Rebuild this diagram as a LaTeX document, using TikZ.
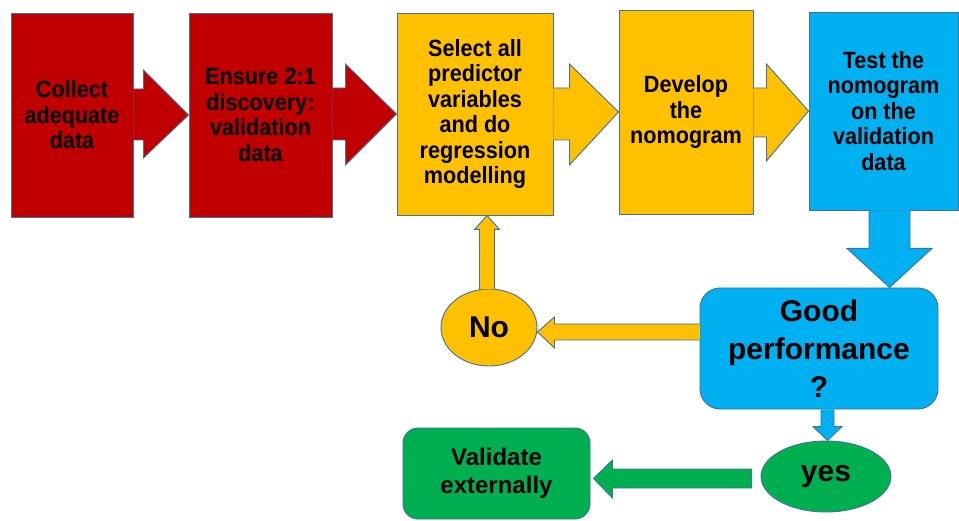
\documentclass[tikz,border=0pt]{standalone}
\usepackage{fontspec}
\setmainfont{Liberation Sans}
\newfontfamily\narrowsans{Liberation Sans}[FakeStretch=0.92]
\usetikzlibrary{calc,shapes.geometric}
\definecolor{cred}{HTML}{C00000}
\definecolor{cyellow}{HTML}{FFC000}
\definecolor{cblue}{HTML}{00B0F0}
\definecolor{cgreen}{HTML}{00B050}
\definecolor{cborder}{HTML}{41719C}
\begin{document}
\begin{tikzpicture}[x=1pt,y=-1pt,
  outl/.style={draw=cborder,line width=0.9pt,line join=miter},
  stepbox/.style={outl,inner sep=0pt,align=center,text=black,
    font=\narrowsans\bfseries\fontsize{23.5}{25.5}\selectfont},
  bigtext/.style={outl,inner sep=0pt,align=center,text=black,
    font=\bfseries\fontsize{30}{38}\selectfont},
  valtext/.style={outl,inner sep=0pt,align=center,text=black,
    font=\bfseries\fontsize{24}{28}\selectfont}]
\useasboundingbox (0,0) rectangle (959,521);
\fill[white] (0,0) rectangle (959,521);

% nodes
\node[stepbox,fill=cred,minimum width=122pt,minimum height=204pt] (b1) at (72,115) {Collect\\adequate\\data};
\node[stepbox,fill=cred,minimum width=143pt,minimum height=204pt] (b2) at (260.5,115) {Ensure 2:1\\discovery:\\validation\\data};
\node[stepbox,fill=cyellow,minimum width=156pt,minimum height=202pt] (b3) at (475,114) {Select all\\predictor\\variables\\and do\\regression\\modelling};
\node[stepbox,fill=cyellow,minimum width=134pt,minimum height=204pt] (b4) at (686,112) {Develop\\the\\nomogram};
\node[stepbox,fill=cblue,minimum width=149pt,minimum height=198pt] (b5) at (883.5,111) {Test the\\nomogram\\on the\\validation\\data};
\node[bigtext,fill=cblue,rounded corners=20pt,minimum width=238pt,minimum height=121pt] (good) at (819,348.5) {Good\\performance\\?};
\node[bigtext,fill=cyellow,ellipse,minimum width=96pt,minimum height=77pt] (no) at (489,327.5) {No};
\node[bigtext,fill=cgreen,ellipse,minimum width=130pt,minimum height=71pt] (yes) at (826,476.5) {yes};
\node[valtext,fill=cgreen,rounded corners=15pt,minimum width=187pt,minimum height=91pt] (val) at (496.5,473.5) {Validate\\externally};

% block arrows along the top row
\draw[outl,fill=cred] ($(b1.east)+(0,-26)$) -- ($(b1.east)+(10,-26)$) -- ($(b1.east)+(10,-45)$) -- (b2.west)
  -- ($(b1.east)+(10,43)$) -- ($(b1.east)+(10,25)$) -- ($(b1.east)+(0,25)$);
\draw[outl,fill=cred] ($(b2.east)+(0,-27)$) -- ($(b2.east)+(13,-27)$) -- ($(b2.east)+(13,-51)$) -- (b3.west)
  -- ($(b2.east)+(13,50)$) -- ($(b2.east)+(13,25)$) -- ($(b2.east)+(0,25)$);
\draw[outl,fill=cyellow] ($(b3.east)+(0,-26)$) -- ($(b3.east)+(16,-26)$) -- ($(b3.east)+(16,-50)$) -- (b4.west)
  -- ($(b3.east)+(16,51)$) -- ($(b3.east)+(16,26)$) -- ($(b3.east)+(0,26)$);
\draw[outl,fill=cyellow] ($(b4.east)+(0,-24)$) -- ($(b4.east)+(13,-24)$) -- ($(b4.east)+(13,-48)$) -- (b5.west)
  -- ($(b4.east)+(13,49)$) -- ($(b4.east)+(13,25)$) -- ($(b4.east)+(0,25)$);

% test box -> good performance
\coordinate (a5) at ($(b5.south)+(6,0)$);
\coordinate (t5) at (a5 |- good.north);
\draw[outl,fill=cblue] ($(a5)+(-20.5,0)$) -- ($(a5)+(-20.5,38)$) -- ($(a5)+(-42.5,38)$) -- (t5)
  -- ($(a5)+(42.5,38)$) -- ($(a5)+(20.5,38)$) -- ($(a5)+(20.5,0)$);

% good performance -> No
\coordinate (a6) at ($(good.west)+(0,-16.5)$);
\coordinate (t6) at (a6 -| no.east);
\draw[outl,fill=cyellow] ($(a6)+(0,-8)$) -- ($(t6)+(17,-8)$) -- ($(t6)+(17,-15)$) -- (t6)
  -- ($(t6)+(17,16)$) -- ($(t6)+(17,8)$) -- ($(a6)+(0,8)$);

% No -> select box
\coordinate (a7) at ($(no.north)+(-2,0.5)$);
\coordinate (t7) at (a7 |- b3.south);
\draw[outl,fill=cyellow] ($(a7)+(-7.5,0)$) -- ($(t7)+(-7.5,14)$) -- ($(t7)+(-12.5,14)$) -- (t7)
  -- ($(t7)+(12.5,14)$) -- ($(t7)+(7.5,14)$) -- ($(a7)+(7.5,0)$);

% good performance -> yes
\coordinate (a8) at ($(good.south)+(8.5,0)$);
\coordinate (t8) at (a8 |- yes.north);
\draw[outl,fill=cblue] ($(a8)+(-6.5,0)$) -- ($(t8)+(-6.5,-14)$) -- ($(t8)+(-14.5,-14)$) -- (t8)
  -- ($(t8)+(14.5,-14)$) -- ($(t8)+(6.5,-14)$) -- ($(a8)+(6.5,0)$);

% yes -> validate externally
\coordinate (a9) at ($(yes.west)+(-9,2)$);
\coordinate (t9) at ($(a9 -| val.east)+(3,0)$);
\draw[outl,fill=cgreen] ($(a9)+(0,-9.5)$) -- ($(t9)+(19,-9.5)$) -- ($(t9)+(19,-18.5)$) -- (t9)
  -- ($(t9)+(19,19.5)$) -- ($(t9)+(19,9.5)$) -- ($(a9)+(0,9.5)$) -- cycle;
\end{tikzpicture}
\end{document}
